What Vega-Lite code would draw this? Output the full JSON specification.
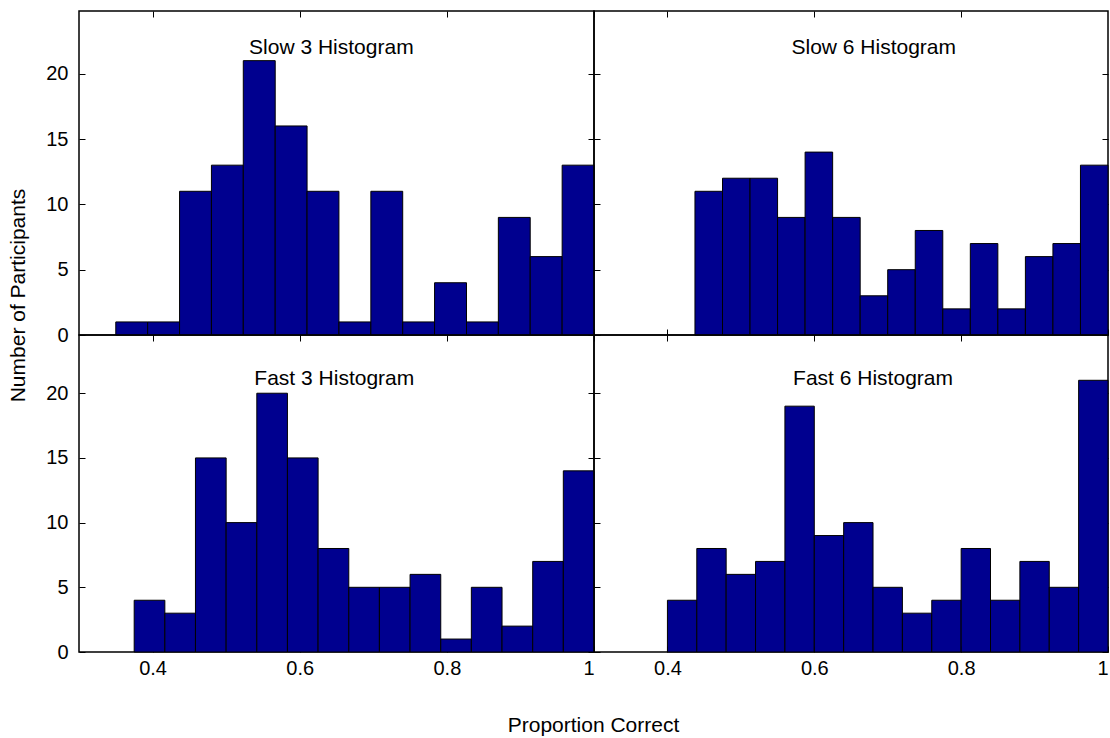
{
  "$schema": "https://vega.github.io/schema/vega-lite/v6.json",
  "background": "white",
  "padding": {"left": 6, "top": 9, "right": 0, "bottom": 0},
  "datasets": {
    "slow3": [
      {"lo": 0.35, "hi": 0.3933, "count": 1},
      {"lo": 0.3933, "hi": 0.4367, "count": 1},
      {"lo": 0.4367, "hi": 0.48, "count": 11},
      {"lo": 0.48, "hi": 0.5233, "count": 13},
      {"lo": 0.5233, "hi": 0.5667, "count": 21},
      {"lo": 0.5667, "hi": 0.61, "count": 16},
      {"lo": 0.61, "hi": 0.6533, "count": 11},
      {"lo": 0.6533, "hi": 0.6967, "count": 1},
      {"lo": 0.6967, "hi": 0.74, "count": 11},
      {"lo": 0.74, "hi": 0.7833, "count": 1},
      {"lo": 0.7833, "hi": 0.8267, "count": 4},
      {"lo": 0.8267, "hi": 0.87, "count": 1},
      {"lo": 0.87, "hi": 0.9133, "count": 9},
      {"lo": 0.9133, "hi": 0.9567, "count": 6},
      {"lo": 0.9567, "hi": 1.0, "count": 13}
    ],
    "slow6": [
      {"lo": 0.4375, "hi": 0.475, "count": 11},
      {"lo": 0.475, "hi": 0.5125, "count": 12},
      {"lo": 0.5125, "hi": 0.55, "count": 12},
      {"lo": 0.55, "hi": 0.5875, "count": 9},
      {"lo": 0.5875, "hi": 0.625, "count": 14},
      {"lo": 0.625, "hi": 0.6625, "count": 9},
      {"lo": 0.6625, "hi": 0.7, "count": 3},
      {"lo": 0.7, "hi": 0.7375, "count": 5},
      {"lo": 0.7375, "hi": 0.775, "count": 8},
      {"lo": 0.775, "hi": 0.8125, "count": 2},
      {"lo": 0.8125, "hi": 0.85, "count": 7},
      {"lo": 0.85, "hi": 0.8875, "count": 2},
      {"lo": 0.8875, "hi": 0.925, "count": 6},
      {"lo": 0.925, "hi": 0.9625, "count": 7},
      {"lo": 0.9625, "hi": 1.0, "count": 13}
    ],
    "fast3": [
      {"lo": 0.375, "hi": 0.4167, "count": 4},
      {"lo": 0.4167, "hi": 0.4583, "count": 3},
      {"lo": 0.4583, "hi": 0.5, "count": 15},
      {"lo": 0.5, "hi": 0.5417, "count": 10},
      {"lo": 0.5417, "hi": 0.5833, "count": 20},
      {"lo": 0.5833, "hi": 0.625, "count": 15},
      {"lo": 0.625, "hi": 0.6667, "count": 8},
      {"lo": 0.6667, "hi": 0.7083, "count": 5},
      {"lo": 0.7083, "hi": 0.75, "count": 5},
      {"lo": 0.75, "hi": 0.7917, "count": 6},
      {"lo": 0.7917, "hi": 0.8333, "count": 1},
      {"lo": 0.8333, "hi": 0.875, "count": 5},
      {"lo": 0.875, "hi": 0.9167, "count": 2},
      {"lo": 0.9167, "hi": 0.9583, "count": 7},
      {"lo": 0.9583, "hi": 1.0, "count": 14}
    ],
    "fast6": [
      {"lo": 0.4, "hi": 0.44, "count": 4},
      {"lo": 0.44, "hi": 0.48, "count": 8},
      {"lo": 0.48, "hi": 0.52, "count": 6},
      {"lo": 0.52, "hi": 0.56, "count": 7},
      {"lo": 0.56, "hi": 0.6, "count": 19},
      {"lo": 0.6, "hi": 0.64, "count": 9},
      {"lo": 0.64, "hi": 0.68, "count": 10},
      {"lo": 0.68, "hi": 0.72, "count": 5},
      {"lo": 0.72, "hi": 0.76, "count": 3},
      {"lo": 0.76, "hi": 0.8, "count": 4},
      {"lo": 0.8, "hi": 0.84, "count": 8},
      {"lo": 0.84, "hi": 0.88, "count": 4},
      {"lo": 0.88, "hi": 0.92, "count": 7},
      {"lo": 0.92, "hi": 0.96, "count": 5},
      {"lo": 0.96, "hi": 1.0, "count": 21}
    ]
  },
  "columns": 2,
  "spacing": 0,
  "bounds": "flush",
  "concat": [
    {
      "width": 515,
      "height": 324,
      "resolve": {"axis": {"x": "independent", "y": "independent"}},
      "layer": [
        {
          "data": {"name": "slow3"},
          "mark": {"type": "rect", "color": "#00008f", "stroke": "black", "strokeWidth": 1},
          "encoding": {
            "x": {"field": "lo", "type": "quantitative", "scale": {"domain": [0.3, 1], "nice": false},
                  "axis": {"values": [0.4, 0.6, 0.8, 1], "labels": false, "title": null, "tickSize": -6}},
            "x2": {"field": "hi"},
            "y": {"field": "count", "type": "quantitative", "scale": {"domain": [0, 24.8], "nice": false},
                  "axis": {"values": [0, 5, 10, 15, 20], "title": "Number of Participants",
                           "titleX": -61, "titleY": 284, "titleAngle": 270, "titleAlign": "center",
                           "titleBaseline": "middle", "tickSize": -6, "labelPadding": 17}},
            "y2": {"datum": 0}
          }
        },
        {
          "data": {"values": [{"title": "Slow 3 Histogram"}]},
          "mark": {"type": "text", "fontSize": 21, "color": "black", "align": "center", "baseline": "middle"},
          "encoding": {
            "x": {"datum": 0.643, "type": "quantitative",
                  "axis": {"orient": "top", "values": [0.4, 0.6, 0.8, 1], "labels": false, "title": null, "tickSize": -6}},
            "y": {"datum": 22, "type": "quantitative",
                  "axis": {"orient": "right", "values": [0, 5, 10, 15, 20], "labels": false, "title": null, "tickSize": -6}},
            "text": {"field": "title"}
          }
        }
      ]
    },
    {
      "width": 514,
      "height": 324,
      "resolve": {"axis": {"x": "independent", "y": "independent"}},
      "layer": [
        {
          "data": {"name": "slow6"},
          "mark": {"type": "rect", "color": "#00008f", "stroke": "black", "strokeWidth": 1},
          "encoding": {
            "x": {"field": "lo", "type": "quantitative", "scale": {"domain": [0.3, 1], "nice": false},
                  "axis": {"values": [0.4, 0.6, 0.8, 1], "labels": false, "title": null, "tickSize": -6}},
            "x2": {"field": "hi"},
            "y": {"field": "count", "type": "quantitative", "scale": {"domain": [0, 24.8], "nice": false},
                  "axis": {"values": [0, 5, 10, 15, 20], "labels": false, "title": null, "tickSize": -6}},
            "y2": {"datum": 0}
          }
        },
        {
          "data": {"values": [{"title": "Slow 6 Histogram"}]},
          "mark": {"type": "text", "fontSize": 21, "color": "black", "align": "center", "baseline": "middle"},
          "encoding": {
            "x": {"datum": 0.681, "type": "quantitative",
                  "axis": {"orient": "top", "values": [0.4, 0.6, 0.8], "labels": false, "title": null, "tickSize": -6}},
            "y": {"datum": 22, "type": "quantitative",
                  "axis": {"orient": "right", "values": [0, 5, 10, 15, 20], "labels": false, "title": null, "tickSize": -6}},
            "text": {"field": "title"}
          }
        }
      ]
    },
    {
      "width": 515,
      "height": 317,
      "resolve": {"axis": {"x": "independent", "y": "independent"}},
      "layer": [
        {
          "data": {"name": "fast3"},
          "mark": {"type": "rect", "color": "#00008f", "stroke": "black", "strokeWidth": 1},
          "encoding": {
            "x": {"field": "lo", "type": "quantitative", "scale": {"domain": [0.3, 1], "nice": false},
                  "axis": {"values": [0.4, 0.6, 0.8, 1], "format": "~g", "title": "Proportion Correct",
                           "titleX": 514, "titleY": 73, "titleAlign": "center", "titleBaseline": "middle",
                           "tickSize": -6, "labelPadding": 12}},
            "x2": {"field": "hi"},
            "y": {"field": "count", "type": "quantitative", "scale": {"domain": [0, 24.5], "nice": false},
                  "axis": {"values": [0, 5, 10, 15, 20], "title": null, "tickSize": -6, "labelPadding": 17}},
            "y2": {"datum": 0}
          }
        },
        {
          "data": {"values": [{"title": "Fast 3 Histogram"}]},
          "mark": {"type": "text", "fontSize": 21, "color": "black", "align": "center", "baseline": "middle"},
          "encoding": {
            "x": {"datum": 0.647, "type": "quantitative",
                  "axis": {"orient": "top", "values": [0.4, 0.6, 0.8, 1], "labels": false, "title": null, "tickSize": -6}},
            "y": {"datum": 21.1, "type": "quantitative",
                  "axis": {"orient": "right", "values": [0, 5, 10, 15, 20], "labels": false, "title": null, "tickSize": -6}},
            "text": {"field": "title"}
          }
        }
      ]
    },
    {
      "width": 514,
      "height": 317,
      "resolve": {"axis": {"x": "independent", "y": "independent"}},
      "layer": [
        {
          "data": {"name": "fast6"},
          "mark": {"type": "rect", "color": "#00008f", "stroke": "black", "strokeWidth": 1},
          "encoding": {
            "x": {"field": "lo", "type": "quantitative", "scale": {"domain": [0.3, 1], "nice": false},
                  "axis": {"values": [0.4, 0.6, 0.8, 1], "format": "~g", "title": null, "labelFlush": true,
                           "tickSize": -6, "labelPadding": 12}},
            "x2": {"field": "hi"},
            "y": {"field": "count", "type": "quantitative", "scale": {"domain": [0, 24.5], "nice": false},
                  "axis": {"values": [0, 5, 10, 15, 20], "labels": false, "title": null, "tickSize": -6}},
            "y2": {"datum": 0}
          }
        },
        {
          "data": {"values": [{"title": "Fast 6 Histogram"}]},
          "mark": {"type": "text", "fontSize": 21, "color": "black", "align": "center", "baseline": "middle"},
          "encoding": {
            "x": {"datum": 0.68, "type": "quantitative",
                  "axis": {"orient": "top", "values": [0.4, 0.6, 0.8], "labels": false, "title": null, "tickSize": -6}},
            "y": {"datum": 21.1, "type": "quantitative",
                  "axis": {"orient": "right", "values": [0, 5, 10, 15, 20], "labels": false, "title": null, "tickSize": -6}},
            "text": {"field": "title"}
          }
        }
      ]
    }
  ],
  "config": {
    "font": "Liberation Sans",
    "view": {"stroke": "black", "strokeWidth": 1.5},
    "axis": {
      "grid": false,
      "domain": false,
      "tickColor": "black",
      "tickWidth": 1,
      "labelFont": "Liberation Sans",
      "labelFontSize": 20,
      "labelColor": "black",
      "titleFont": "Liberation Sans",
      "titleFontSize": 21,
      "titleFontWeight": "normal",
      "titleColor": "black"
    },
    "text": {"font": "Liberation Sans"}
  }
}
